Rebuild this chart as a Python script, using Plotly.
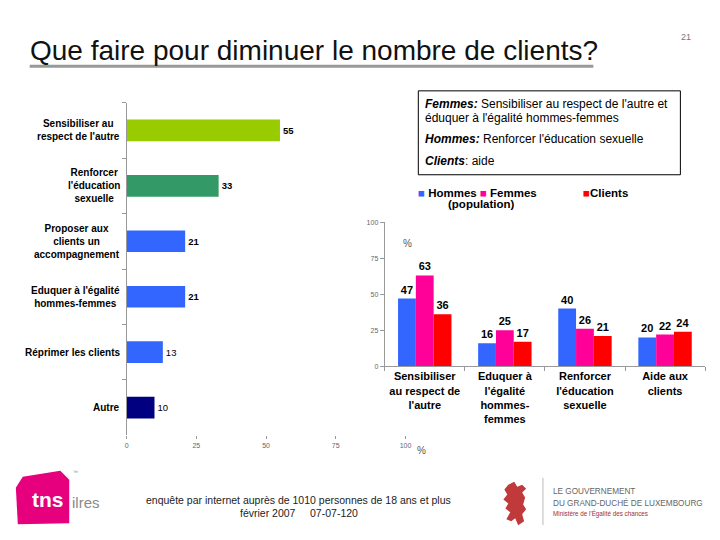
import plotly.graph_objects as go

W, H = 720, 540
def px(x): return x / W
def py(y): return 1 - y / H

FONT = "Liberation Sans, Arial, sans-serif"

# ---------------- data ----------------
left_cats = ["Sensibiliser au<br>respect de l'autre",
             "Renforcer<br>l'éducation<br>sexuelle",
             "Proposer aux<br>clients un<br>accompagnement",
             "Eduquer à l'égalité<br>hommes-femmes",
             "Réprimer les clients",
             "Autre"]
left_vals = [55, 33, 21, 21, 13, 10]
left_colors = ["#99cc00", "#339966", "#3366ff", "#3366ff", "#3366ff", "#000080"]
left_bold = [True, True, True, True, False, False]
left_ticks = [0, 25, 50, 75, 100]

right_cats = ["Sensibiliser<br>au respect de<br>l'autre",
              "Eduquer à<br>l'égalité<br>hommes-<br>femmes",
              "Renforcer<br>l'éducation<br>sexuelle",
              "Aide aux<br>clients"]
hommes = [47, 16, 40, 20]
femmes = [63, 25, 26, 22]
clients = [36, 17, 21, 24]
right_ticks = [0, 25, 50, 75, 100]

col_h, col_f, col_c = "#3366ff", "#ff0099", "#ff0000"

fig = go.Figure()

# ---------------- left chart ----------------
left_text = [f"<b>{v}</b>" if b else f"{v}" for v, b in zip(left_vals, left_bold)]
fig.add_trace(go.Bar(
    y=left_cats, x=left_vals, orientation="h", width=0.39,
    marker=dict(color=left_colors, line=dict(width=0)),
    text=left_text, textposition="outside", texttemplate="%{text}",
    textfont=dict(family=FONT, size=9.5, color="#000"),
    cliponaxis=False, xaxis="x", yaxis="y", showlegend=False, hoverinfo="skip"))

# ---------------- right chart ----------------
for name, vals, c in [("Hommes", hommes, col_h), ("Femmes", femmes, col_f), ("Clients", clients, col_c)]:
    fig.add_trace(go.Bar(
        x=right_cats, y=vals, name=name, marker=dict(color=c, line=dict(width=0)),
        text=vals, texttemplate="<b>%{text}</b>", textposition="outside",
        textfont=dict(family=FONT, size=11, color="#000"),
        cliponaxis=False, xaxis="x2", yaxis="y2", showlegend=False, hoverinfo="skip"))

axis_common = dict(showgrid=False, zeroline=False, fixedrange=True)

fig.update_layout(
    width=W, height=H, margin=dict(l=0, r=0, t=0, b=0),
    paper_bgcolor="white", plot_bgcolor="rgba(0,0,0,0)",
    barmode="group", bargap=0.333, bargroupgap=0,
    font=dict(family=FONT),
    xaxis=dict(domain=[px(126), px(408)], range=[0, 100], tickvals=left_ticks,
               showline=False, ticks="outside", ticklen=3, tickcolor="#999",
               tickfont=dict(size=7, color="#666"), anchor="y", **axis_common),
    yaxis=dict(domain=[py(437), py(100)], type="category", autorange="reversed",
               showline=True, linecolor="#999", linewidth=1,
               ticks="outside", tickson="boundaries", ticklen=4, tickcolor="#999",
               showticklabels=False, anchor="x", **axis_common),
    xaxis2=dict(domain=[px(387), px(711)], type="category",
                showline=True, linecolor="#999", linewidth=1,
                ticks="outside", tickson="boundaries", ticklen=4, tickcolor="#999",
                tickvals=right_cats, ticktext=[f"<b>{c}</b>" for c in right_cats],
                tickfont=dict(size=11, color="#000", family=FONT), anchor="y2",
                **axis_common),
    yaxis2=dict(domain=[py(367), py(221)], range=[0, 100], tickvals=right_ticks,
                showline=True, linecolor="#999", linewidth=1,
                ticks="outside", ticklen=4, tickcolor="#999",
                tickfont=dict(size=7, color="#666"), anchor="x2", **axis_common),
)

ann = []
# left category labels
for c in left_cats:
    ann.append(dict(x=px(121), y=c, xref="paper", yref="y", xanchor="right", yanchor="middle",
                    text=f"<b>{c}</b>", showarrow=False, align="center",
                    font=dict(family=FONT, size=10, color="#000")))

def txt(x, y, s, size, color="#000", xanchor="left", align="left"):
    ann.append(dict(x=px(x), y=py(y), xref="paper", yref="paper", xanchor=xanchor,
                    yanchor="middle", text=s, showarrow=False, align=align,
                    font=dict(family=FONT, size=size, color=color)))

# title
txt(26, 47, "Que faire pour diminuer le nombre de clients?", 28, "#111")
txt(699, 33, "21", 9, "#777", xanchor="right")
# % labels
txt(403, 243, "%", 10, "#555")
txt(418, 452, "%", 10, "#555")
# legend
txt(419, 191, f"<span style='color:{col_h}'>■</span><b> Hommes </b><span style='color:{col_f}'>■</span><b> Femmes</b>", 11.5)
txt(586, 191, f"<span style='color:{col_c}'>■</span><b>Clients</b>", 11.5)
txt(449, 203, "<b>(population)</b>", 11.5)
# text box
txt(426, 101, "<b><i>Femmes:</i></b> Sensibiliser au respect de l'autre et", 12)
txt(426, 115, "éduquer à l'égalité hommes-femmes", 12)
txt(426, 137, "<b><i>Hommes:</i></b> Renforcer l'éducation sexuelle", 12)
txt(426, 159, "<b><i>Clients</i></b>: aide", 12)
# footer
txt(300, 503, "enquête par internet auprès de 1010 personnes de 18 ans et plus", 10.5, "#222", xanchor="center")
txt(300, 516, "février 2007     07-07-120", 10.5, "#222", xanchor="center")
# tns logo text
txt(47, 502, "<b>tns</b>", 21, "white", xanchor="center")
txt(69, 505, "ilres", 15, "#8a8a8a")
txt(70, 474, "™", 5, "#888")
# Luxembourg logo text
txt(555, 494, "LE GOUVERNEMENT", 8.2, "#666")
txt(555, 506, "DU GRAND-DUCHÉ DE LUXEMBOURG", 8.2, "#666")
txt(555, 516, "Ministère de l'Égalité des chances", 6.3, "#a03030")

fig.update_layout(annotations=ann)

shapes = []
# title underline
shapes.append(dict(type="line", xref="paper", yref="paper", x0=px(28), x1=px(598),
                   y0=py(63), y1=py(63), line=dict(color="#999", width=3)))
# text box
shapes.append(dict(type="rect", xref="paper", yref="paper", x0=px(421), x1=px(686),
                   y0=py(88), y1=py(173), line=dict(color="#000", width=1), fillcolor="white",
                   layer="below"))
# tns pink shape
pts = [(21, 479), (59, 473), (68, 482), (68, 526), (16, 527), (14, 490)]
path = "M " + " L ".join(f"{px(x)},{py(y)}" for x, y in pts) + " Z"
shapes.append(dict(type="path", xref="paper", yref="paper", path=path,
                   fillcolor="#e6007e", line=dict(width=0), layer="below"))
# lion (rough silhouette)
lion = [(512, 487), (518, 484), (521, 489), (526, 487), (530, 491), (526, 495), (529, 500),
        (527, 507), (530, 512), (526, 517), (528, 524), (522, 528), (519, 521), (515, 524),
        (510, 522), (514, 515), (509, 511), (512, 506), (507, 502), (511, 497), (508, 492)]
path = "M " + " L ".join(f"{px(x)},{py(y)}" for x, y in lion) + " Z"
shapes.append(dict(type="path", xref="paper", yref="paper", path=path,
                   fillcolor="#c0393b", line=dict(width=0)))
shapes.append(dict(type="line", xref="paper", yref="paper", x0=px(547), x1=px(547),
                   y0=py(480), y1=py(528), line=dict(color="#bbb", width=1)))
fig.update_layout(shapes=shapes)

fig.write_html("out.html", config={"displayModeBar": False},
               post_script="document.body.style.margin='0';")
